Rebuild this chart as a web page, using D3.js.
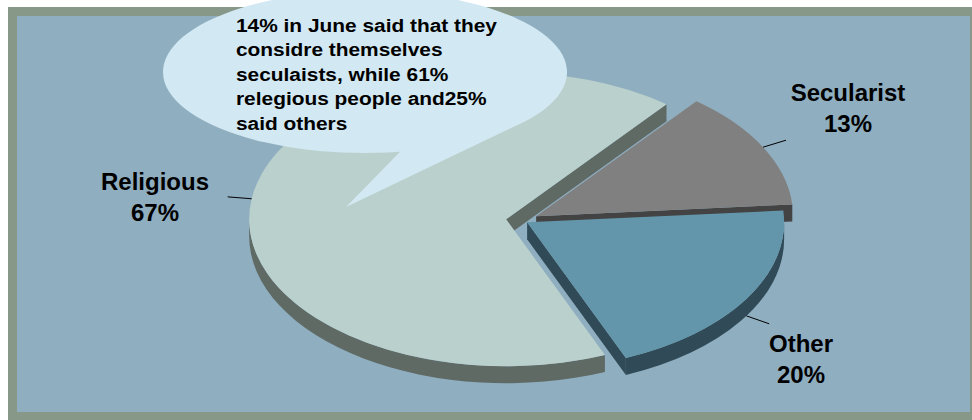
<!DOCTYPE html>
<html>
<head>
<meta charset="utf-8">
<script src="https://cdn.jsdelivr.net/npm/d3@7"></script>
<style>
  html, body { margin: 0; padding: 0; background: #ffffff; }
  svg { display: block; }
  text { font-family: "Liberation Sans", Arial, sans-serif; font-weight: bold; fill: #000; }
</style>
</head>
<body>
<svg id="chart" width="972" height="420"></svg>
<script>
// Survey shares by self-description
const categories = ["Religious", "Secularist", "Other"];
const shares = [67, 13, 20];

// Callout note text, one entry per line
const noteLines = [
  "14% in June said that they",
  "considre themselves",
  "seculaists, while 61%",
  "relegious people and25%",
  "said others"
];

// Styling per slice
const topColors = ["#BAD0CD", "#808080", "#6396AA"];
const sideColors = ["#5F6A65", "#434343", "#304A57"];
const explode = [16, 16, 6];          // radial pull-out of each slice
const labelAnchors = [[155, 190], [848, 100.7], [801, 351.7]];

const W = 972, H = 420;
const svg = d3.select("#chart");

// Frame and plot background
svg.append("rect").attr("x", 8).attr("y", 7).attr("width", W).attr("height", H)
  .attr("fill", "#889888");
svg.append("rect").attr("x", 17).attr("y", 16).attr("width", 953).attr("height", 396)
  .attr("fill", "#8FAEC0");

// 3D pie geometry: tilted ellipse with a visible rim
const geo = { cx: 522, cy: 220.5, rx: 257, ry: 147, depth: 17 };
const startDeg = 157.4;
const pieGen = d3.pie().sort(null)
  .startAngle(startDeg * Math.PI / 180)
  .endAngle(startDeg * Math.PI / 180 + 2 * Math.PI);
const arcs = pieGen(shares).map((d, i) => ({ ...d, i, mid: (d.startAngle + d.endAngle) / 2 }));

const k = geo.ry / geo.rx;
arcs.forEach(d => {
  d.cx = geo.cx + explode[d.i] * Math.sin(d.mid);
  d.cy = geo.cy - explode[d.i] * Math.cos(d.mid) * k;
});

const pt = (d, t, dz = 0) => [d.cx + geo.rx * Math.sin(t), d.cy - geo.ry * Math.cos(t) + dz];
const f = p => p[0].toFixed(2) + "," + p[1].toFixed(2);

function topPath(d) {
  const large = d.endAngle - d.startAngle > Math.PI ? 1 : 0;
  return `M${f([d.cx, d.cy])}L${f(pt(d, d.startAngle))}A${geo.rx},${geo.ry} 0 ${large} 1 ${f(pt(d, d.endAngle))}Z`;
}
function radialPath(d, t) {
  const h = geo.depth;
  return `M${f([d.cx, d.cy])}L${f(pt(d, t))}L${f(pt(d, t, h))}L${f([d.cx, d.cy + h])}Z`;
}
function rimPath(d, lo, hi) {
  const h = geo.depth;
  const large = hi - lo > Math.PI ? 1 : 0;
  return `M${f(pt(d, lo))}A${geo.rx},${geo.ry} 0 ${large} 1 ${f(pt(d, hi))}` +
         `L${f(pt(d, hi, h))}A${geo.rx},${geo.ry} 0 ${large} 0 ${f(pt(d, lo, h))}Z`;
}

// Paint back slices first
const order = arcs.slice().sort((a, b) => Math.cos(b.mid) - Math.cos(a.mid));
const gPie = svg.append("g");
order.forEach(d => {
  const g = gPie.append("g");
  const side = sideColors[d.i];
  // radial walls facing the viewer
  if (Math.sin(d.startAngle) < 0) g.append("path").attr("d", radialPath(d, d.startAngle)).attr("fill", side);
  if (Math.sin(d.endAngle) > 0) g.append("path").attr("d", radialPath(d, d.endAngle)).attr("fill", side);
  // front part of the rim
  [0, 2 * Math.PI].forEach(off => {
    const lo = Math.max(d.startAngle, Math.PI / 2 + off);
    const hi = Math.min(d.endAngle, 3 * Math.PI / 2 + off);
    if (hi > lo) g.append("path").attr("d", rimPath(d, lo, hi)).attr("fill", side);
  });
  g.append("path").attr("d", topPath(d)).attr("fill", topColors[d.i]);
});

// Leader lines and category labels
arcs.forEach(d => {
  const front = Math.cos(d.mid) < 0;
  const p0 = pt(d, d.mid, front ? geo.depth : 0);
  let ux = Math.sin(d.mid), uy = -Math.cos(d.mid) * k;
  const n = Math.hypot(ux, uy); ux /= n; uy /= n;
  const p1 = [p0[0] + ux * 24, p0[1] + uy * 24];
  svg.append("line")
    .attr("x1", p0[0]).attr("y1", p0[1]).attr("x2", p1[0]).attr("y2", p1[1])
    .attr("stroke", "#000").attr("stroke-width", 1);
  const [lx, ly] = labelAnchors[d.i];
  const t = svg.append("text").attr("text-anchor", "middle").attr("font-size", 24);
  t.append("tspan").attr("x", lx).attr("y", ly).text(categories[d.i]);
  t.append("tspan").attr("x", lx).attr("y", ly + 31).text(shares[d.i] + "%");
});

// Speech-bubble callout
const bub = { cx: 365, cy: 72, rx: 202, ry: 81, tip: [346, 207], a0: 37.6, a1: 80 };
const ep = a => [bub.cx + bub.rx * Math.cos(a * Math.PI / 180), bub.cy + bub.ry * Math.sin(a * Math.PI / 180)];
svg.append("path")
  .attr("d", `M${f(bub.tip)}L${f(ep(bub.a0))}A${bub.rx},${bub.ry} 0 1 0 ${f(ep(bub.a1))}Z`)
  .attr("fill", "#D2E8F2");

const note = svg.append("g");
noteLines.forEach((s, i) => {
  note.append("text")
    .attr("transform", `translate(236,${31.5 + i * 24.6}) scale(1.16,1)`)
    .attr("font-size", 18)
    .text(s);
});
</script>
</body>
</html>
